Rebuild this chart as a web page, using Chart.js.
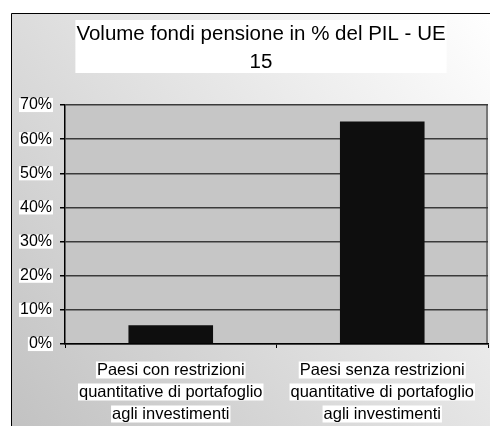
<!DOCTYPE html>
<html>
<head>
<meta charset="utf-8">
<script src="https://cdn.jsdelivr.net/npm/chart.js@4"></script>
<style>
  html, body { margin: 0; padding: 0; background: #fff; }
</style>
</head>
<body>
<canvas id="c" width="490" height="426"></canvas>
<script>
const titleLines = ["Volume fondi pensione in % del PIL - UE", "15"];
const categories = [
  ["Paesi con restrizioni", "quantitative di portafoglio", "agli investimenti"],
  ["Paesi senza restrizioni", "quantitative di portafoglio", "agli investimenti"]
];
const values = [5.5, 65.2];
const yTicks = [0, 10, 20, 30, 40, 50, 60, 70];

const FONT = "'Liberation Sans', Arial, sans-serif";

// background, plot fill, title box and white boxes behind the category labels
const backdrop = {
  id: "backdrop",
  beforeDraw(chart) {
    const { ctx, chartArea: a, width, height } = chart;
    ctx.save();
    ctx.fillStyle = "#fff";
    ctx.fillRect(0, 0, width, height);
    const g = ctx.createLinearGradient(width, 13, 11, height);
    g.addColorStop(0, "#ffffff");
    g.addColorStop(1, "#c2c2c2");
    ctx.fillStyle = g;
    ctx.fillRect(11, 13, width - 11, height - 13);
    ctx.strokeStyle = "#000";
    ctx.lineWidth = 1;
    ctx.beginPath();
    ctx.moveTo(11.5, height);
    ctx.lineTo(11.5, 13.5);
    ctx.lineTo(width, 13.5);
    ctx.stroke();

    ctx.fillStyle = "#c6c6c6";
    ctx.fillRect(a.left, a.top, a.right - a.left, a.bottom - a.top);
    ctx.strokeStyle = "#777";
    ctx.lineWidth = 2;
    ctx.beginPath();
    ctx.moveTo(a.right - 1, a.top);
    ctx.lineTo(a.right - 1, a.bottom);
    ctx.stroke();

    // title
    ctx.font = "20.5px " + FONT;
    const w = Math.max(...titleLines.map(t => ctx.measureText(t).width));
    ctx.fillStyle = "#fff";
    ctx.fillRect(261 - w / 2 - 1, 20, w + 2, 53);
    ctx.fillStyle = "#000";
    ctx.textAlign = "center";
    ctx.textBaseline = "alphabetic";
    titleLines.forEach((t, i) => ctx.fillText(t, 261, 40 + i * 28));

    // one white box per label line
    const x = chart.scales.x;
    ctx.font = "16.5px " + FONT;
    ctx.fillStyle = "#fff";
    categories.forEach((lines, i) => {
      const px = x.getPixelForTick(i);
      lines.forEach((t, j) => {
        const tw = ctx.measureText(t).width;
        const cy = x.top + 15 + 11 + j * 22;
        ctx.fillRect(px - tw / 2 - 1, cy - 8.5, tw + 2, 17);
      });
    });
    ctx.restore();
  }
};

new Chart(document.getElementById("c"), {
  type: "bar",
  data: {
    labels: categories,
    datasets: [{
      data: values,
      backgroundColor: "#0e0e0e",
      categoryPercentage: 1,
      barPercentage: 0.4
    }]
  },
  options: {
    responsive: false,
    animation: false,
    layout: { padding: { top: 105, right: 2, left: 0, bottom: 0 } },
    plugins: {
      legend: { display: false },
      title: { display: false },
      tooltip: { enabled: false }
    },
    scales: {
      x: {
        grid: { offset: true, drawOnChartArea: false, tickLength: 4, color: "#000" },
        border: { color: "#000", width: 1.5 },
        ticks: {
          color: "#000",
          padding: 11,
          maxRotation: 0,
          autoSkip: false,
          font: { family: FONT, size: 16.5, lineHeight: 1.333 }
        },
        afterFit: s => { s.height = 82; }
      },
      y: {
        min: yTicks[0],
        max: yTicks[yTicks.length - 1],
        ticks: {
          stepSize: yTicks[1] - yTicks[0],
          padding: 8,
          color: "#000",
          font: { family: FONT, size: 16, lineHeight: 0.82 },
          callback: v => v + "%",
          showLabelBackdrop: true,
          backdropColor: "#fff",
          backdropPadding: { x: 1, y: 0.5 }
        },
        grid: { color: "#3a3a3a", lineWidth: 1.5, tickColor: "#000", tickLength: 5 },
        border: { color: "#000", width: 1.5 },
        afterFit: s => { s.width = 65; }
      }
    }
  },
  plugins: [backdrop]
});
</script>
</body>
</html>
